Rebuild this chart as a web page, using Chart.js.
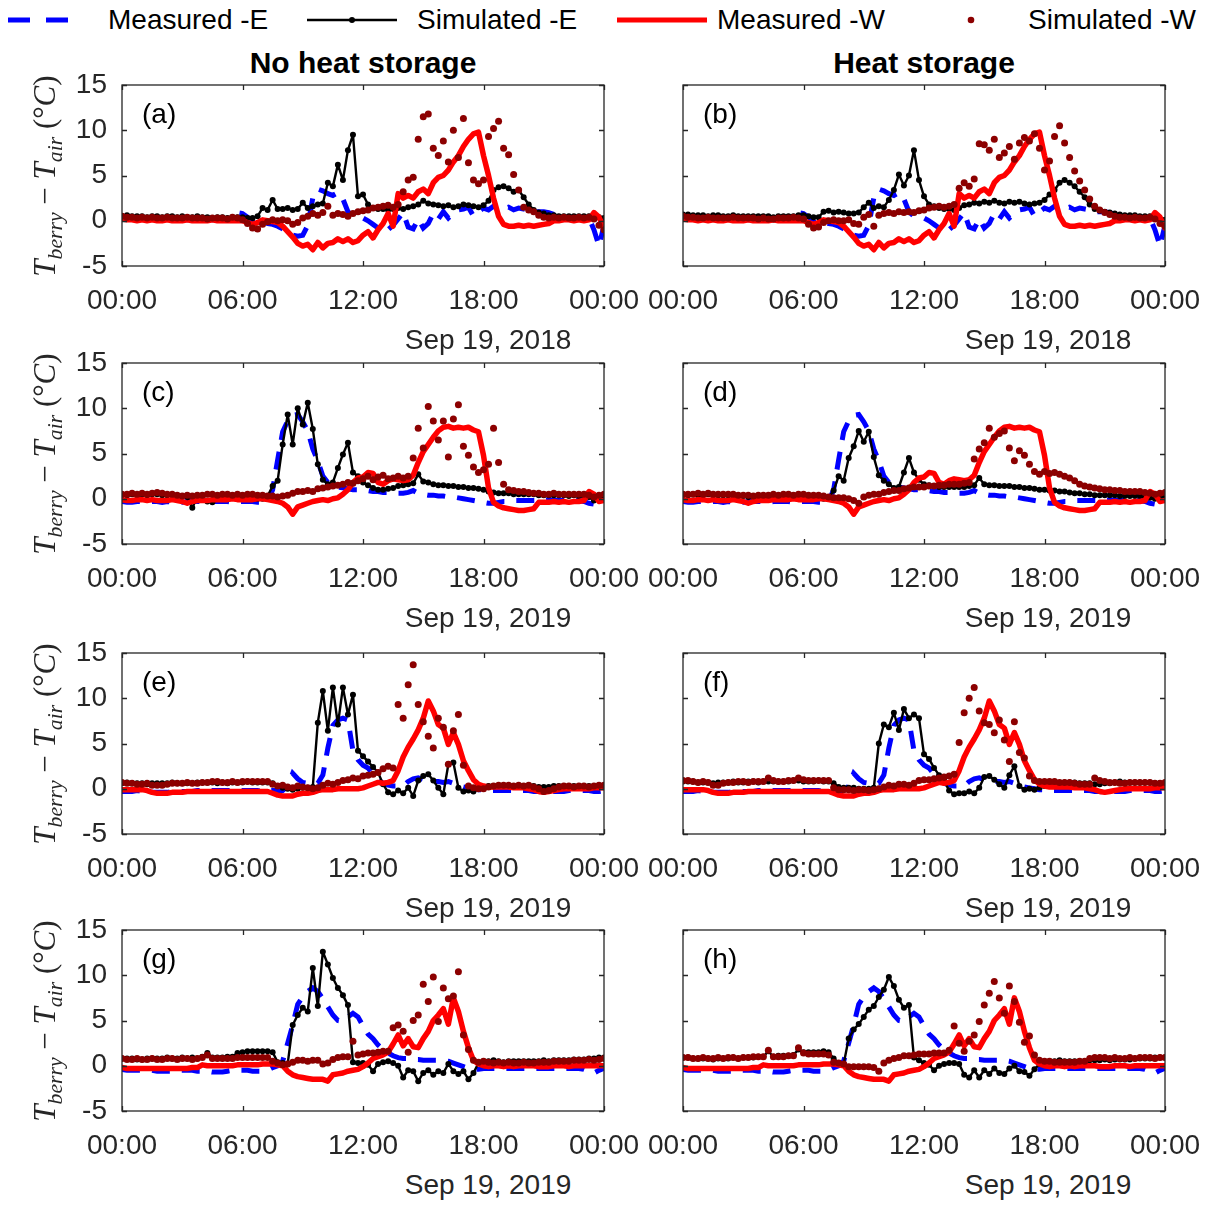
<!DOCTYPE html>
<html>
<head>
<meta charset="utf-8">
<script src="https://cdn.jsdelivr.net/npm/chart.js@4.4.1/dist/chart.umd.min.js"></script>
<style>
  html, body { margin: 0; padding: 0; background: #fff; }
  body { width: 1219px; height: 1205px; position: relative; overflow: hidden;
         font-family: "Liberation Sans", Arial, sans-serif; color: #262626; }
  canvas { position: absolute; }
  .lg { position: absolute; top: 0; line-height: 40px; font-size: 28px; color: #000; white-space: nowrap; }
  .title { position: absolute; font-weight: bold; font-size: 30px; color: #000;
           transform: translate(-50%, -50%); white-space: nowrap; }
  .date { position: absolute; font-size: 28px; color: #262626;
          transform: translate(-50%, -50%); white-space: nowrap; }
  .ylab { position: absolute; font-family: "Liberation Serif", "DejaVu Serif", serif; font-size: 31px;
          color: #262626; white-space: nowrap; transform: translate(-50%, -50%) rotate(-90deg); }
  .ylab sub { font-size: 0.7em; vertical-align: -0.3em; line-height: 0; }
</style>
</head>
<body>

<svg width="1219" height="40" style="position:absolute;left:0;top:0">
  <line x1="8" y1="20" x2="72" y2="20" stroke="#0000ff" stroke-width="5" stroke-dasharray="22 16"/>
  <line x1="307" y1="20" x2="397" y2="20" stroke="#000" stroke-width="2.5"/>
  <circle cx="352" cy="20" r="3" fill="#000"/>
  <line x1="617" y1="20" x2="707" y2="20" stroke="#ff0000" stroke-width="5"/>
  <circle cx="971" cy="20" r="3.3" fill="#8c0000"/>
</svg>
<span class="lg" style="left:108px">Measured -E</span>
<span class="lg" style="left:417px">Simulated -E</span>
<span class="lg" style="left:717px">Measured -W</span>
<span class="lg" style="left:1028px">Simulated -W</span>

<div class="title" style="left:363px;top:63px">No heat storage</div>
<div class="title" style="left:924px;top:63px">Heat storage</div>

<div id="panels"></div>

<script>
// Sample times: quarter-hour steps over the day, 00:00 .. 24:00
const hours = Array.from({ length: 97 }, (_, i) => i / 4);

const xTickLabels = ['00:00', '06:00', '12:00', '18:00', '00:00'];
const yTicks = [-5, 0, 5, 10, 15];
const panelTags = ['(a)', '(b)', '(c)', '(d)', '(e)', '(f)', '(g)', '(h)'];
const dateLabels = ['Sep 19, 2018', 'Sep 19, 2019', 'Sep 19, 2019', 'Sep 19, 2019'];
const seriesNames = ['Measured -E', 'Simulated -E', 'Measured -W', 'Simulated -W'];

// ---- 2018 day: measured (shared by a/b) and simulated ----
const measE_ab = [0.4,0.3,0.3,0.3, 0.3,0.2,0.3,0.2, 0.2,0.2,0.2,0.1, 0.2,0.1,0.1,0.1,
 0.1,0.1,0.1,0.1, 0.1,0.2,0.6,0.9, 0.8,0.4,-0.1,-0.3, -0.3,-0.3,-0.4,-0.6,
 -0.9,-1.3,-1.6,-1.7, -1.6,-0.5,2.5,3.5, 3.3,3.0,2.8,3.1, 2.4,1.0,0.5,0.4,
 0.3,0.0,-0.4,-0.8, -1.2,-1.0,-0.5,0.2, 0.9,-0.7,-0.9,0.2, -0.8,-0.3,0.8,0.2,
 1.0,0.3,0.8,1.2, 1.3,1.5,0.5,1.0, 1.4,1.2,1.6,1.3, 1.3,1.5,1.2,1.4,
 1.3,1.2,1.0,1.0, 1.0,0.9,0.7,0.5, 0.4,0.4,0.4,0.4, 0.4,0.3,-1.0,-2.8,
 -0.5];
const measW_ab = [0.2,0.1,0.1,0.0, 0.1,0.0,0.1,0.0, 0.0,0.1,0.0,0.0, 0.0,0.1,0.0,0.0,
 0.0,0.0,0.1,0.0, 0.0,0.0,0.0,0.0, 0.0,-0.2,-0.4,-0.2, 0.1,0.0,-0.1,-0.2,
 -0.6,-1.2,-1.8,-2.5, -2.8,-2.6,-3.2,-2.4, -3.0,-2.5,-2.4,-2.0, -2.3,-2.0,-2.4,-2.2,
 -1.6,-1.2,-1.9,-1.0, -0.3,0.8,-0.6,3.0, 2.5,2.8,2.5,3.2, 3.5,3.0,4.2,4.8,
 5.0,5.6,6.5,7.2, 8.2,9.0,9.6,9.8, 7.2,5.0,2.5,0.5, -0.4,-0.6,-0.6,-0.5,
 -0.6,-0.5,-0.6,-0.5, -0.4,-0.3,0.0,0.0, 0.1,0.1,0.0,0.1, 0.0,0.1,0.9,0.4,
 -0.8];
const simE_a = [0.5,0.6,0.5,0.5, 0.5,0.4,0.5,0.5, 0.4,0.5,0.5,0.4, 0.5,0.4,0.4,0.5,
 0.4,0.4,0.3,0.4, 0.4,0.3,0.4,0.4, 0.4,0.3,0.3,0.5, 1.4,1.2,2.3,1.3,
 1.3,1.4,1.2,1.3, 2.0,1.4,1.6,1.8, 1.9,4.2,3.8,6.2, 4.5,7.8,9.5,2.7,
 2.9,1.8,1.4,1.3, 1.3,1.2,1.3,1.4, 1.3,1.5,1.6,1.8, 2.2,1.9,1.8,1.7,
 1.6,1.7,1.5,1.6, 1.8,1.7,1.6,1.5, 1.7,2.2,3.4,3.7, 3.8,3.6,3.2,3.4,
 2.6,1.8,1.2,0.9, 0.8,0.6,0.6,0.5, 0.5,0.5,0.5,0.5, 0.5,0.5,0.5,0.4,
 0.3];
const simW_a = [0.5,0.4,0.4,0.3, 0.4,0.3,0.4,0.3, 0.3,0.4,0.3,0.3, 0.3,0.4,0.3,0.3,
 0.3,0.2,0.3,0.3, 0.3,0.2,0.4,0.3, 0.1,-0.3,-0.8,-0.9, -0.4,-0.1,0.1,0.0,
 0.1,0.0,-0.4,-0.2, 0.3,0.5,0.8,0.6, 0.9,1.6,0.6,0.8, 0.7,0.5,0.8,1.0,
 1.1,1.2,1.4,1.5, 1.6,1.7,1.5,1.8, 3.2,4.5,4.8,9.0, 11.5,11.8,8.0,7.2,
 8.8,6.5,10.0,7.0, 11.3,6.4,4.5,4.1, 4.5,9.3,10.2,11.0, 8.0,7.3,5.1,3.4,
 1.5,1.2,1.0,0.6, 0.4,0.3,0.4,0.3, 0.4,0.3,0.3,0.4, 0.3,0.4,0.2,-0.5,
 -1.0];
const simE_b = [0.7,0.7,0.6,0.6, 0.6,0.5,0.6,0.6, 0.5,0.5,0.6,0.5, 0.5,0.5,0.5,0.5,
 0.5,0.5,0.4,0.5, 0.5,0.5,0.5,0.6, 0.6,0.5,0.4,0.4, 1.0,1.1,0.9,1.0,
 0.9,0.8,0.8,0.9, 1.5,2.0,1.4,1.6, 1.5,2.3,3.4,5.1, 3.9,5.0,7.8,4.5,
 2.7,1.8,1.6,1.4, 1.3,1.3,1.2,1.4, 1.7,1.8,2.0,1.9, 2.1,2.0,2.2,2.0,
 1.9,2.1,2.0,2.1, 1.9,1.8,1.9,2.0, 2.3,2.9,3.4,4.2, 4.5,4.2,3.8,3.2,
 2.6,1.8,1.3,1.1, 1.0,0.9,0.8,0.7, 0.6,0.6,0.6,0.5, 0.5,0.5,0.4,0.2,
 0.1];
const simW_b = [0.5,0.4,0.4,0.3, 0.3,0.4,0.3,0.3, 0.3,0.3,0.4,0.3, 0.3,0.3,0.3,0.2,
 0.3,0.2,0.2,0.3, 0.3,0.3,0.4,0.3, 0.2,-0.4,-0.8,-0.7, -0.2,0.0,0.1,0.0,
 0.0,0.1,-0.3,-0.4, 0.4,0.7,-0.6,0.6, 0.8,0.9,0.8,1.0, 0.9,1.0,0.9,1.1,
 1.2,1.4,1.5,1.6, 1.5,1.6,1.8,3.6, 4.2,3.8,4.6,8.5, 8.4,7.8,9.0,7.0,
 7.5,8.2,6.8,8.6, 9.2,8.8,9.6,8.0, 5.6,6.6,9.3,10.5, 8.6,7.0,5.5,4.4,
 3.4,2.4,1.6,1.2, 0.9,0.7,0.5,0.4, 0.4,0.3,0.4,0.3, 0.3,0.4,0.2,-0.3,
 -0.6];

// ---- 2019 day, case c/d ----
const measE_cd = [-0.3,-0.4,-0.4,-0.3, -0.3,-0.4,-0.3,-0.3, -0.4,-0.3,-0.4,-0.4, -0.4,-0.3,-0.3,-0.3,
 -0.3,-0.4,-0.3,-0.3, -0.3,-0.3,-0.4,-0.3, -0.3,-0.3,-0.3,-0.4, -0.4,-0.3,1.0,4.3,
 7.4,8.6,9.2,9.3, 8.5,7.5,5.5,4.2, 2.5,1.8,1.5,1.3, 1.2,1.1,1.0,1.0,
 0.9,0.9,0.8,0.8, 0.7,0.7,0.7,0.6, 0.6,0.7,0.9,0.6, 0.5,0.4,0.4,0.3,
 0.3,0.2,0.2,0.1, 0.0,-0.1,-0.2,-0.3, -0.4,-0.5,-0.5,-0.4, -0.3,-0.3,-0.2,-0.2,
 -0.2,-0.2,-0.2,-0.2, -0.2,-0.1,-0.2,-0.2, -0.2,-0.2,-0.2,-0.2, -0.3,-0.5,-0.6,-0.3,
 -0.1];
const measW_cd = [-0.1,-0.2,-0.2,-0.1, -0.1,-0.2,-0.1,-0.2, -0.2,-0.2,-0.1,-0.2, -0.3,-0.5,-0.3,-0.2,
 -0.2,-0.2,-0.1,-0.1, -0.1,-0.1,0.0,-0.1, -0.1,-0.1,-0.1,0.0, 0.0,-0.1,-0.2,-0.3,
 -0.5,-0.9,-1.7,-0.9, -0.7,-0.5,-0.3,-0.2, -0.1,-0.2,0.0,0.1, 0.5,1.0,1.8,2.3,
 2.4,2.9,2.8,1.8, 1.6,2.0,2.2,2.1, 2.0,2.1,2.6,4.0, 5.2,6.0,6.8,7.5,
 7.9,8.0,7.8,7.9, 7.8,7.9,7.6,7.4, 4.8,1.2,-0.4,-0.8, -1.0,-1.1,-1.2,-1.3,
 -1.3,-1.2,-1.1,-0.4, -0.4,-0.4,-0.3,-0.4, -0.3,-0.4,-0.3,-0.3, -0.2,0.8,0.5,-0.3,
 -0.2];
const simE_c = [0.4,0.4,0.5,0.4, 0.5,0.4,0.5,0.5, 0.4,0.4,0.4,0.3, 0.3,0.2,-1.0,0.2,
 0.1,-0.3,-0.4,0.2, 0.3,0.3,0.4,0.4, 0.4,0.4,0.2,0.0, 0.0,0.3,1.4,2.0,
 6.0,9.3,6.0,10.0, 8.2,10.6,7.7,3.8, 2.1,1.6,1.8,3.4, 4.9,6.2,2.9,2.5,
 1.8,1.5,1.2,1.0, 1.0,1.1,1.2,1.4, 1.5,1.6,1.7,2.7, 1.9,1.8,1.6,1.5,
 1.5,1.4,1.4,1.3, 1.3,1.2,1.2,1.1, 1.0,0.8,0.7,0.6, 0.6,0.6,0.5,0.5,
 0.5,0.5,0.5,0.4, 0.4,0.4,0.4,0.4, 0.4,0.3,0.4,0.3, 0.3,0.2,-0.2,0.1,
 0.2];
const simW_c = [0.5,0.5,0.6,0.5, 0.6,0.5,0.6,0.7, 0.6,0.5,0.5,0.4, 0.3,0.4,0.3,0.4,
 0.4,0.5,0.5,0.4, 0.5,0.5,0.4,0.5, 0.4,0.5,0.5,0.4, 0.4,0.3,0.3,0.2,
 0.3,0.4,0.6,0.8, 0.8,0.9,0.8,1.1, 1.2,1.3,1.4,1.5, 1.6,1.8,1.7,2.0,
 2.2,2.5,2.1,2.4, 2.6,2.2,2.3,2.5, 2.3,2.5,4.5,7.8, 5.6,10.2,8.6,6.5,
 8.6,4.6,8.8,10.4, 5.8,4.8,3.5,2.9, 3.2,3.8,7.8,4.0, 1.6,1.0,0.9,0.8,
 0.8,0.7,0.6,0.6, 0.5,0.5,0.6,0.5, 0.5,0.5,0.5,0.5, 0.5,0.4,0.2,0.4,
 0.5];
const simE_d = [0.4,0.4,0.5,0.4, 0.4,0.5,0.4,0.4, 0.4,0.4,0.3,0.3, 0.3,0.2,0.2,0.3,
 0.3,0.3,0.3,0.2, 0.3,0.3,0.4,0.3, 0.3,0.3,0.3,0.1, 0.0,0.1,0.9,2.5,
 2.0,4.5,5.8,7.5, 6.3,7.4,4.6,2.6, 2.0,1.6,1.2,1.3, 2.9,4.5,2.9,2.1,
 1.6,1.5,1.4,1.3, 1.3,1.3,1.3,1.3, 1.3,1.4,1.5,2.3, 1.6,1.5,1.5,1.4,
 1.4,1.4,1.3,1.3, 1.2,1.2,1.1,1.0, 1.0,0.9,0.9,0.8, 0.8,0.7,0.6,0.6,
 0.5,0.5,0.4,0.4, 0.4,0.4,0.4,0.3, 0.3,0.3,0.3,0.3, 0.2,0.1,0.0,0.1,
 0.2];
const simW_d = [0.5,0.5,0.5,0.6, 0.5,0.6,0.5,0.5, 0.5,0.5,0.5,0.4, 0.4,0.4,0.3,0.4,
 0.4,0.4,0.5,0.4, 0.5,0.5,0.4,0.5, 0.5,0.4,0.4,0.4, 0.3,0.2,0.1,0.1,
 0.1,0.0,-0.2,-0.5, 0.2,0.4,0.5,0.5, 0.7,0.8,0.9,0.9, 1.1,1.2,1.3,1.3,
 1.3,1.4,1.4,1.5, 1.5,1.6,1.6,1.6, 1.7,1.8,4.4,5.5, 6.2,7.8,6.8,7.2,
 7.5,5.6,4.2,5.3, 4.8,3.8,3.0,2.7, 3.0,2.8,2.9,2.7, 2.5,2.3,2.0,1.6,
 1.4,1.3,1.2,1.1, 1.0,1.0,0.9,0.9, 0.8,0.8,0.8,0.8, 0.7,0.6,0.5,0.6,
 0.7];

// ---- 2019 day, case e/f ----
const measE_ef = [-0.3,-0.3,-0.3,-0.2, -0.3,-0.3,-0.4,-0.4, -0.4,-0.4,-0.3,-0.3, -0.3,-0.3,-0.3,-0.2,
 -0.2,-0.2,-0.2,-0.2, -0.2,-0.2,-0.2,-0.2, -0.2,-0.2,-0.2,-0.2, -0.3,-0.3,-0.2,-0.2,
 -0.2,0.3,1.7,1.1, 0.7,0.6,0.5,0.6, 1.5,4.5,7.0,7.6, 7.8,7.6,4.2,3.2,
 2.6,2.3,1.6,1.0, 0.6,0.4,0.3,0.3, 0.3,0.8,1.1,1.2, 1.0,0.9,0.8,0.8,
 0.7,0.8,0.6,0.4, 0.2,0.1,0.0,-0.1, -0.1,-0.2,-0.2,-0.2, -0.2,-0.2,-0.2,-0.2,
 -0.2,-0.2,-0.3,-0.3, -0.4,-0.4,-0.3,-0.3, -0.3,-0.2,-0.2,-0.2, -0.2,-0.2,-0.3,-0.3,
 -0.2];
const measW_ef = [-0.1,-0.1,-0.1,-0.1, -0.1,-0.2,-0.4,-0.5, -0.5,-0.5,-0.4,-0.4, -0.4,-0.3,-0.3,-0.3,
 -0.3,-0.3,-0.3,-0.3, -0.3,-0.3,-0.3,-0.3, -0.3,-0.3,-0.3,-0.3, -0.3,-0.3,-0.5,-0.7,
 -0.8,-0.8,-0.8,-0.6, -0.5,-0.5,-0.4,-0.2, -0.1,-0.1,-0.1,0.0, 0.0,0.0,0.0,0.0,
 0.1,0.3,0.5,0.7, 0.6,0.7,0.9,2.0, 3.5,4.6,5.5,6.5, 7.8,9.7,8.6,7.1,
 6.7,4.9,6.2,4.9, 3.1,2.0,1.0,0.5, 0.3,0.2,0.2,0.2, 0.2,0.2,0.1,0.1,
 0.1,0.0,-0.1,-0.3, -0.4,-0.3,-0.2,-0.1, 0.0,0.0,0.0,0.0, 0.0,0.0,0.1,0.1,
 0.1];
const simE_e = [0.6,0.7,0.6,0.6, 0.6,0.5,0.6,0.6, 0.6,0.6,0.7,0.6, 0.6,0.6,0.6,0.7,
 0.7,0.7,0.7,0.6, 0.7,0.6,0.7,0.7, 0.7,0.8,0.7,0.7, 0.7,0.7,0.6,0.3,
 0.1,0.0,-0.1,0.0, 0.1,0.1,0.2,7.3, 10.8,6.4,11.2,7.1, 11.2,8.2,10.4,4.2,
 3.6,3.0,2.4,1.8, 0.5,-0.4,-0.6,-0.2, -0.5,0.1,-0.8,0.9, 1.4,1.6,0.9,0.1,
 -0.6,2.7,2.9,0.1, -0.3,-0.2,-0.3,0.0, 0.2,0.3,0.3,0.3, 0.3,0.3,0.3,0.3,
 0.3,0.3,0.3,0.2, 0.2,0.2,0.3,0.3, 0.3,0.3,0.3,0.3, 0.3,0.3,0.3,0.3,
 0.3];
const simW_e = [0.7,0.6,0.6,0.5, 0.5,0.6,0.4,0.4, 0.4,0.5,0.6,0.6, 0.6,0.7,0.6,0.6,
 0.7,0.7,0.8,0.8, 0.7,0.7,0.8,0.7, 0.8,0.8,0.8,0.8, 0.8,0.8,0.5,0.3,
 0.4,0.2,0.1,0.3, 0.2,0.1,0.0,0.1, 0.4,0.6,0.5,0.7, 0.9,1.0,1.2,1.1,
 1.4,1.5,1.6,1.8, 2.2,2.5,2.3,9.3, 7.8,11.5,13.7,9.3, 7.4,5.8,4.5,7.8,
 6.8,2.7,6.4,8.2, 2.6,0.3,0.1,0.0, 0.0,0.2,0.3,0.4, 0.4,0.4,0.3,0.4,
 0.3,0.4,0.2,0.0, -0.3,-0.2,0.0,0.2, 0.3,0.3,0.2,0.3, 0.3,0.2,0.3,0.4,
 0.4];
const simE_f = [0.8,0.8,0.8,0.7, 0.7,0.7,0.6,0.7, 0.7,0.7,0.8,0.7, 0.7,0.8,0.8,0.7,
 0.8,0.8,0.8,0.8, 0.8,0.8,0.9,0.9, 0.8,0.8,0.8,0.9, 0.8,0.8,0.6,0.2,
 0.1,0.1,0.1,0.0, 0.0,0.0,0.1,5.0, 7.1,6.8,8.4,6.5, 8.8,7.8,8.2,7.8,
 3.8,3.3,2.3,1.5, 0.9,-0.2,-0.6,-0.5, -0.5,-0.3,-0.5,0.1, 1.3,1.4,1.0,0.5,
 0.1,1.5,2.5,0.3, -0.1,0.0,-0.1,0.1, 0.3,0.5,0.6,0.6, 0.7,0.7,0.7,0.6,
 0.6,0.6,0.5,0.5, 0.6,0.6,0.7,0.8, 0.7,0.7,0.7,0.7, 0.7,0.7,0.6,0.6,
 0.6];
const simW_f = [0.9,0.9,0.8,0.7, 0.8,0.7,0.4,0.4, 0.6,0.7,0.7,0.8, 0.8,0.7,0.8,0.8,
 0.8,1.2,0.9,0.8, 0.8,0.9,0.9,1.2, 1.0,0.9,0.9,0.9, 0.9,0.9,0.1,-0.1,
 -0.1,-0.1,-0.2,-0.1, -0.1,-0.2,-0.1,0.0, 0.2,0.4,0.3,0.5, 0.5,0.4,0.6,0.9,
 1.0,1.0,1.1,1.2, 1.3,1.4,1.6,5.1, 8.4,10.0,11.2,8.6, 7.3,7.1,6.2,7.6,
 5.4,3.0,7.4,4.0, 3.4,1.4,0.9,0.8, 0.8,0.8,0.8,0.7, 0.7,0.7,0.6,0.5,
 0.5,0.5,1.2,0.9, 0.8,0.7,0.7,0.6, 0.6,0.7,0.7,0.7, 0.7,0.7,0.6,0.6,
 0.7];

// ---- 2019 day, case g/h ----
const measE_gh = [-0.4,-0.5,-0.5,-0.5, -0.5,-0.5,-0.5,-0.6, -0.6,-0.6,-0.6,-0.5, -0.5,-0.5,-0.5,-0.6,
 -0.6,-0.6,-0.7,-0.7, -0.7,-0.6,-0.5,-0.5, -0.5,-0.5,-0.6,-0.6, -0.6,-0.5,-0.2,0.0,
 0.5,2.5,4.5,6.8, 7.6,8.2,8.6,8.2, 7.4,6.5,5.6,5.0, 4.9,5.4,5.8,5.4,
 4.4,3.5,3.0,2.3, 1.8,1.4,1.1,0.9, 0.8,0.8,0.7,0.7, 0.6,0.6,0.6,0.6,
 0.6,0.5,0.3,0.1, -0.1,-0.3,-0.4,-0.4, -0.3,-0.3,-0.3,-0.3, -0.3,-0.3,-0.3,-0.3,
 -0.3,-0.3,-0.3,-0.3, -0.3,-0.3,-0.3,-0.3, -0.3,-0.3,-0.3,-0.3, -0.4,-0.6,-0.8,-0.5,
 -0.3];
const measW_gh = [-0.2,-0.3,-0.3,-0.3, -0.3,-0.3,-0.3,-0.3, -0.3,-0.3,-0.3,-0.3, -0.3,-0.3,-0.2,-0.2,
 0.1,0.0,0.0,0.0, 0.0,0.0,0.0,0.1, 0.1,0.1,0.1,0.1, 0.2,0.2,0.2,0.1,
 0.0,-0.6,-1.0,-1.2, -1.3,-1.4,-1.5,-1.5, -1.5,-1.7,-1.0,-0.9, -0.8,-0.6,-0.5,-0.4,
 -0.1,0.3,0.8,1.0, 1.2,1.5,2.4,3.4, 2.2,3.0,2.1,2.0, 3.0,3.8,5.0,5.6,
 6.3,4.6,7.5,6.0, 3.8,2.0,0.6,0.2, 0.0,-0.1,0.0,0.0, -0.1,0.0,-0.1,0.0,
 0.0,0.0,0.0,-0.1, -0.1,-0.1,0.0,0.0, 0.0,-0.1,0.0,0.0, 0.0,0.0,0.0,0.0,
 0.0];
const simE_g = [0.8,0.8,0.8,0.7, 0.7,0.8,0.8,0.8, 0.8,0.9,0.8,0.8, 0.9,0.8,0.9,0.8,
 1.0,1.4,0.9,0.9, 0.9,1.0,1.0,1.4, 1.5,1.6,1.6,1.6, 1.6,1.6,1.5,0.4,
 0.3,0.2,4.5,5.6, 6.4,6.0,10.8,6.6, 12.6,11.2,9.7,8.6, 7.8,6.7,0.4,0.3,
 0.3,0.1,-0.6,0.2, 0.4,0.5,0.3,0.0, -1.3,-0.5,-0.6,-1.7, -0.8,-0.5,-1.0,-0.6,
 -0.8,0.2,-0.6,-0.9, -0.6,-1.5,-0.8,0.3, 0.5,0.5,0.6,0.5, 0.4,0.5,0.5,0.5,
 0.5,0.5,0.5,0.5, 0.6,0.5,0.6,0.6, 0.6,0.6,0.7,0.7, 0.7,0.8,0.8,0.9,
 0.9];
const simW_g = [0.8,0.7,0.7,0.8, 0.7,0.7,0.8,0.7, 0.7,0.8,0.8,0.7, 0.8,0.8,0.7,0.8,
 0.9,1.2,0.8,0.8, 0.8,0.8,0.8,0.9, 0.9,0.9,0.9,0.9, 0.9,0.9,0.5,0.3,
 0.1,0.2,0.4,0.6, 0.6,0.5,0.6,0.6, 0.2,0.3,0.7,0.9, 1.0,1.0,2.7,1.2,
 1.3,1.4,1.4,1.5, 1.6,1.6,4.2,4.5, 3.8,1.5,5.0,5.6, 9.0,7.1,9.8,4.9,
 8.6,7.4,7.7,10.4, 3.4,1.8,0.6,0.4, 0.5,0.4,0.3,0.4, 0.3,0.4,0.3,0.3,
 0.4,0.3,0.3,0.4, 0.4,0.4,0.5,0.5, 0.5,0.5,0.6,0.6, 0.6,0.7,0.6,0.7,
 0.8];
const simE_h = [0.9,0.9,0.8,0.8, 0.8,0.8,0.7,0.8, 0.8,0.8,0.9,0.8, 0.9,0.9,0.9,1.0,
 1.0,1.6,1.0,1.1, 1.1,1.1,1.2,1.8, 1.5,1.5,1.5,1.5, 1.6,1.5,0.8,0.3,
 0.2,3.0,4.0,4.6, 5.4,6.2,6.6,7.6, 8.4,9.8,8.8,7.3, 6.4,6.7,0.9,0.6,
 0.3,0.1,-0.5,0.0, 0.2,0.3,0.3,0.2, -1.0,-1.3,-0.5,-1.3, -0.5,-0.9,-0.3,-0.8,
 -0.9,-0.3,0.0,-0.6, -0.7,-1.1,-0.4,0.2, 0.5,0.5,0.5,0.6, 0.5,0.5,0.5,0.5,
 0.5,0.6,0.6,0.6, 0.7,0.6,0.7,0.7, 0.7,0.7,0.8,0.8, 0.8,0.8,0.9,0.9,
 0.9];
const simW_h = [0.9,0.9,0.8,0.8, 0.9,0.8,0.8,0.9, 0.8,0.9,0.9,0.8, 0.9,0.9,1.0,1.0,
 1.0,1.7,1.0,1.0, 1.0,1.1,1.1,2.0, 1.4,1.3,1.3,1.3, 1.3,1.2,0.4,0.3,
 0.2,-0.1,-0.1,-0.1, -0.1,-0.1,-0.2,-0.6, 0.3,0.6,0.8,0.9, 1.1,1.1,1.2,1.3,
 1.3,1.3,1.4,1.4, 1.4,1.7,4.4,2.5, 1.6,2.7,3.4,4.9, 6.7,8.0,9.3,7.5,
 5.8,8.8,7.1,4.8, 2.6,3.3,1.2,0.6, 0.5,0.5,0.4,0.4, 0.4,0.4,0.4,0.5,
 0.5,0.8,0.9,0.9, 0.9,0.8,0.9,0.8, 0.8,0.9,0.8,0.9, 0.9,0.9,0.8,0.9,
 0.9];

// Panel contents, row by row (left: no heat storage, right: heat storage)
const panelSeries = [
  [measE_ab, simE_a, measW_ab, simW_a], [measE_ab, simE_b, measW_ab, simW_b],
  [measE_cd, simE_c, measW_cd, simW_c], [measE_cd, simE_d, measW_cd, simW_d],
  [measE_ef, simE_e, measW_ef, simW_e], [measE_ef, simE_f, measW_ef, simW_f],
  [measE_gh, simE_g, measW_gh, simW_g], [measE_gh, simE_h, measW_gh, simW_h]
];

// ---------------- layout ----------------
const ROW_TOP = [85, 363, 653, 930];
const PLOT_H = 181;
const PAD_TOP = 40, XAXIS_H = 45;
const COLS = [
  { canvasLeft: 0,   canvasW: 660, plotLeft: 122, plotRight: 604,  showY: true,  dateX: 488 },
  { canvasLeft: 620, canvasW: 599, plotLeft: 683, plotRight: 1165, showY: false, dateX: 1048 }
];
const TICK_FONT = { family: '"Liberation Sans", Arial, sans-serif', size: 28 };
const AXIS_COLOR = '#262626';

const toPoints = arr => arr.map((v, i) => ({ x: hours[i], y: v }));

// Box around the axes with inward tick marks on all four sides, plus the panel tag
const framePlugin = {
  id: 'frame',
  afterDatasetsDraw(chart, args, opts) {
    const { ctx, chartArea: a, scales: { x, y } } = chart;
    ctx.save();
    ctx.strokeStyle = AXIS_COLOR;
    ctx.lineWidth = 1.3;
    ctx.strokeRect(a.left, a.top, a.right - a.left, a.bottom - a.top);
    const L = 5;
    ctx.beginPath();
    x.ticks.forEach(t => {
      const px = Math.round(x.getPixelForValue(t.value)) + 0.5;
      ctx.moveTo(px, a.bottom); ctx.lineTo(px, a.bottom - L);
      ctx.moveTo(px, a.top);    ctx.lineTo(px, a.top + L);
    });
    y.ticks.forEach(t => {
      const py = Math.round(y.getPixelForValue(t.value)) + 0.5;
      ctx.moveTo(a.left, py);  ctx.lineTo(a.left + L, py);
      ctx.moveTo(a.right, py); ctx.lineTo(a.right - L, py);
    });
    ctx.stroke();
    ctx.fillStyle = '#000';
    ctx.font = '28px "Liberation Sans", Arial, sans-serif';
    ctx.textBaseline = 'middle';
    ctx.textAlign = 'left';
    ctx.fillText(opts.tag, a.left + 20, a.top + 30);
    ctx.restore();
  }
};

const host = document.getElementById('panels');

panelSeries.forEach((series, idx) => {
  const row = Math.floor(idx / 2), col = COLS[idx % 2];
  const canvas = document.createElement('canvas');
  const H = PAD_TOP + PLOT_H + XAXIS_H;
  canvas.width = col.canvasW;
  canvas.height = H;
  canvas.style.left = col.canvasLeft + 'px';
  canvas.style.top = (ROW_TOP[row] - PAD_TOP) + 'px';
  canvas.style.width = col.canvasW + 'px';
  canvas.style.height = H + 'px';
  host.appendChild(canvas);

  const yWidth = col.showY ? col.plotLeft - col.canvasLeft : 0;
  const padLeft = col.showY ? 0 : col.plotLeft - col.canvasLeft;
  const padRight = col.canvasLeft + col.canvasW - col.plotRight;

  const [mE, sE, mW, sW] = series;
  const chart = new Chart(canvas, {
    type: 'line',
    data: {
      datasets: [
        { label: seriesNames[0], data: toPoints(mE), borderColor: '#0000ff', borderWidth: 5,
          borderDash: [18, 12], borderCapStyle: 'butt', pointRadius: 0, order: 4, clip: 0 },
        { label: seriesNames[1], data: toPoints(sE), borderColor: '#000000', borderWidth: 2.4,
          pointRadius: 3, pointBackgroundColor: '#000000', pointBorderWidth: 0,
          borderJoinStyle: 'round', order: 3, clip: 0 },
        { label: seriesNames[2], data: toPoints(mW), borderColor: '#ff0000', borderWidth: 5.5,
          borderJoinStyle: 'round', borderCapStyle: 'round', pointRadius: 0, order: 2, clip: 0 },
        { label: seriesNames[3], data: toPoints(sW), showLine: false, pointRadius: 3.5,
          pointBackgroundColor: '#8c0000', pointBorderWidth: 0, borderColor: '#8c0000', order: 1, clip: 0 }
      ]
    },
    options: {
      responsive: false,
      animation: false,
      devicePixelRatio: 1,
      events: [],
      layout: { padding: { left: padLeft, right: padRight, top: PAD_TOP, bottom: 0 } },
      plugins: { legend: { display: false }, tooltip: { enabled: false }, frame: { tag: panelTags[idx] } },
      scales: {
        x: {
          type: 'linear', min: 0, max: 24,
          grid: { display: false, drawTicks: false },
          border: { display: false },
          ticks: {
            stepSize: 6, autoSkip: false, maxRotation: 0, padding: 18,
            color: AXIS_COLOR, font: TICK_FONT,
            callback: (v) => xTickLabels[Math.round(v / 6)]
          },
          afterFit: s => { s.height = XAXIS_H; }
        },
        y: {
          type: 'linear', min: yTicks[0], max: yTicks[yTicks.length - 1],
          grid: { display: false, drawTicks: false },
          border: { display: false },
          ticks: {
            display: col.showY, stepSize: 5, padding: 15,
            color: AXIS_COLOR, font: TICK_FONT,
            callback: (v) => String(v)
          },
          afterFit: s => { s.width = yWidth; }
        }
      }
    },
    plugins: [framePlugin]
  });

  // Shift/resize the canvas so the plotting area lands exactly on its frame
  const a = chart.chartArea;
  const dx = Math.round(a.left - (col.plotLeft - col.canvasLeft));
  const dy = Math.round(a.top - PAD_TOP);
  if (dx !== 0 || dy !== 0) {
    const w = col.canvasW + dx, h = H + dy;
    canvas.style.left = (col.canvasLeft - dx) + 'px';
    canvas.style.top = (ROW_TOP[row] - PAD_TOP - dy) + 'px';
    chart.resize(w, h);
    canvas.style.width = w + 'px';
    canvas.style.height = h + 'px';
  }

  const d = document.createElement('div');
  d.className = 'date';
  d.textContent = dateLabels[row];
  d.style.left = col.dateX + 'px';
  d.style.top = (ROW_TOP[row] + PLOT_H + 74) + 'px';
  document.body.appendChild(d);

  if (col.showY) {
    const yl = document.createElement('div');
    yl.className = 'ylab';
    yl.innerHTML = '<i>T</i><sub><i>berry</i></sub> \u2212 <i>T</i><sub><i>air</i></sub> (\u00B0<i>C</i>)';
    yl.style.left = '45px';
    yl.style.top = (ROW_TOP[row] + PLOT_H / 2) + 'px';
    document.body.appendChild(yl);
  }
});
</script>
</body>
</html>
